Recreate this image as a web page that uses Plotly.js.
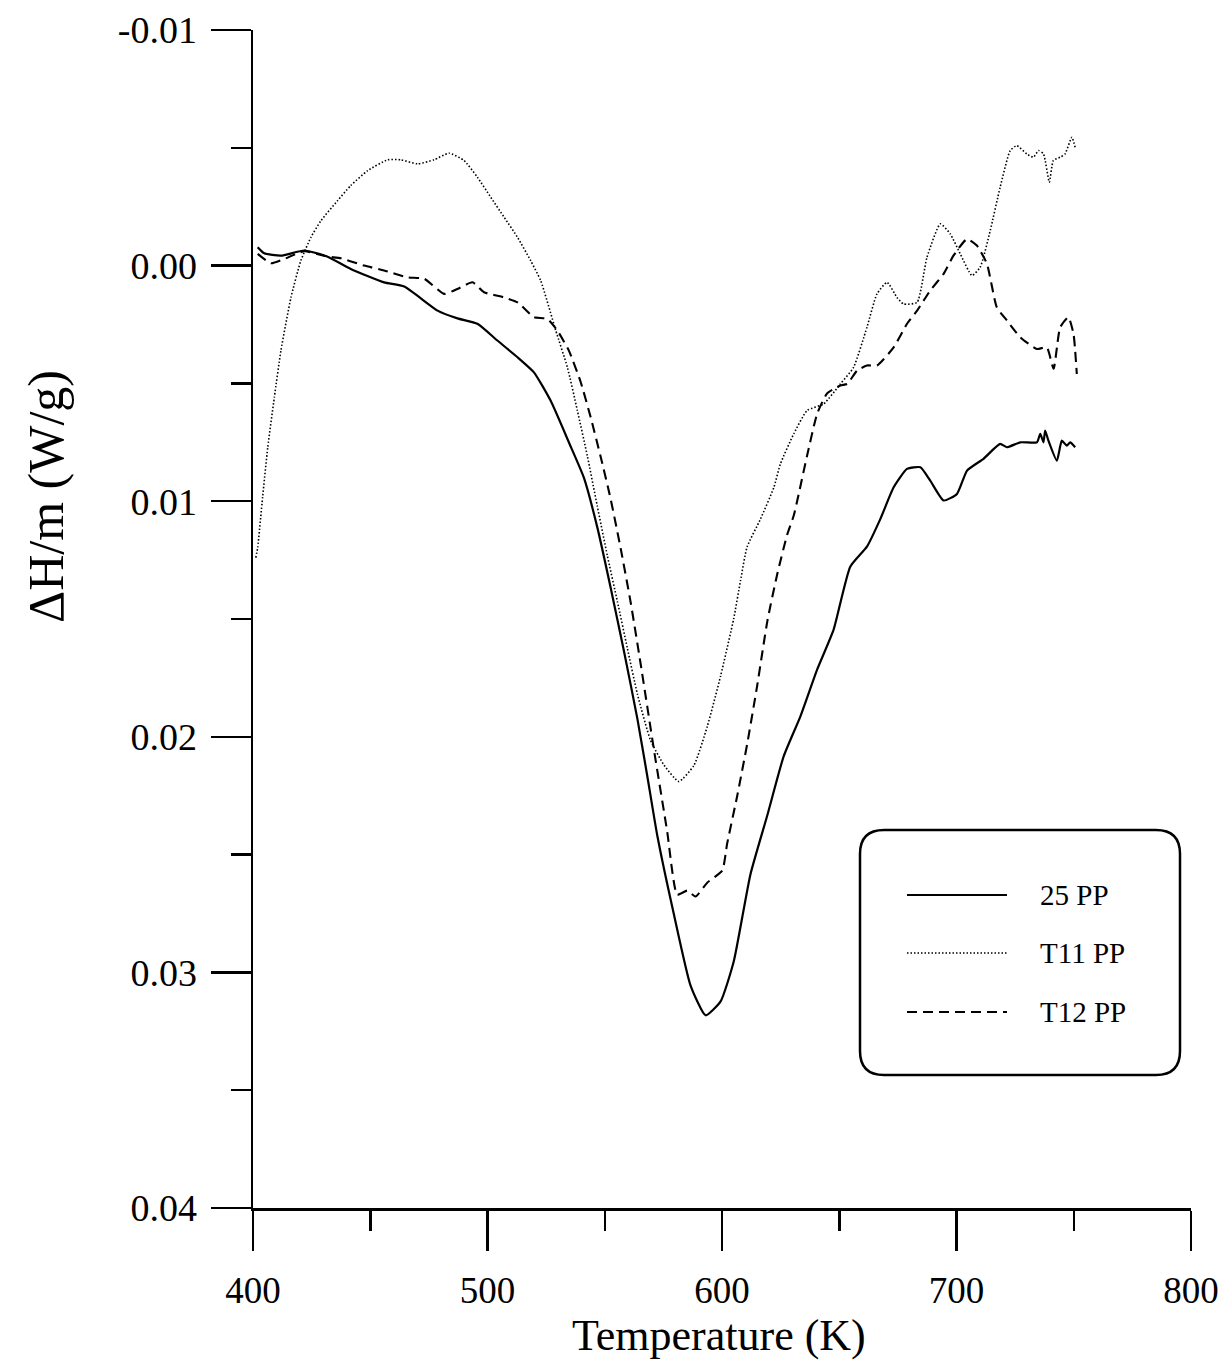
<!DOCTYPE html>
<html>
<head>
<meta charset="utf-8">
<script src="https://cdn.plot.ly/plotly-3.0.1.min.js"></script>
<style>
  html, body { margin: 0; padding: 0; background: #ffffff; }
  #chart { width: 1224px; height: 1363px; }
</style>
</head>
<body>
<div id="chart"></div>
<script>
// ---------- DATA (temperature in K, heat flow in W/g) ----------
const seriesNames = ['25 PP', 'T11 PP', 'T12 PP'];

const temp25 = [402.0, 404.8, 411.9, 421.9, 431.8, 441.7, 455.9, 464.5, 478.7, 487.2, 495.7, 504.2, 512.8, 519.8, 526.9, 534.7, 541.1, 546.8, 552.5, 558.2, 563.9, 568.1, 572.4, 579.5, 586.6, 593.0, 599.4, 605.0, 612.1, 619.3, 626.3, 633.4, 640.6, 647.6, 654.7, 661.8, 667.5, 673.2, 678.9, 684.6, 688.8, 694.5, 700.2, 704.5, 711.5, 718.6, 721.5, 727.2, 734.3, 735.7, 737.1, 737.8, 739.2, 742.8, 744.9, 747.0, 748.5, 750.6];
const dh25 = [-0.00078, -0.00052, -0.00042, -0.00064, -0.00038, 0.00014, 0.00071, 0.00089, 0.00191, 0.00224, 0.00247, 0.00318, 0.00389, 0.00453, 0.00573, 0.00750, 0.00900, 0.01110, 0.01366, 0.01637, 0.01923, 0.02164, 0.02419, 0.02754, 0.03056, 0.03182, 0.03123, 0.02954, 0.02585, 0.02334, 0.02083, 0.01914, 0.01714, 0.01545, 0.01278, 0.01193, 0.01076, 0.00941, 0.00863, 0.00856, 0.00913, 0.00997, 0.00969, 0.00870, 0.00820, 0.00757, 0.00771, 0.00750, 0.00750, 0.00714, 0.00750, 0.00700, 0.00743, 0.00828, 0.00743, 0.00764, 0.00750, 0.00771];

const tempT11 = [401.2, 402.0, 404.1, 406.3, 409.1, 411.9, 416.2, 420.4, 424.7, 429.0, 436.1, 441.7, 448.9, 457.4, 463.0, 470.2, 477.2, 483.6, 490.0, 495.7, 501.4, 507.1, 512.8, 518.4, 522.7, 529.1, 534.1, 538.3, 542.6, 546.8, 551.1, 555.4, 559.6, 563.9, 569.5, 575.2, 581.6, 588.0, 593.7, 599.4, 605.0, 607.9, 610.7, 616.4, 622.1, 624.9, 630.6, 636.3, 643.4, 650.5, 656.1, 661.8, 666.1, 670.4, 674.6, 677.4, 683.2, 687.4, 693.1, 697.3, 701.6, 706.6, 710.1, 714.4, 718.6, 722.9, 725.7, 730.0, 732.8, 735.0, 737.1, 739.6, 741.3, 744.2, 746.3, 749.2, 750.6];
const dhT11 = [0.01240, 0.01196, 0.00983, 0.00771, 0.00559, 0.00361, 0.00135, -0.00021, -0.00120, -0.00191, -0.00276, -0.00340, -0.00403, -0.00449, -0.00449, -0.00432, -0.00449, -0.00477, -0.00446, -0.00375, -0.00290, -0.00205, -0.00120, -0.00021, 0.00064, 0.00275, 0.00433, 0.00614, 0.00809, 0.01020, 0.01231, 0.01426, 0.01622, 0.01818, 0.02014, 0.02119, 0.02190, 0.02122, 0.01957, 0.01742, 0.01498, 0.01337, 0.01194, 0.01076, 0.00942, 0.00842, 0.00714, 0.00615, 0.00587, 0.00502, 0.00432, 0.00262, 0.00120, 0.00071, 0.00135, 0.00163, 0.00156, -0.00035, -0.00177, -0.00135, -0.00050, 0.00042, 0.00007, -0.00149, -0.00332, -0.00488, -0.00509, -0.00474, -0.00460, -0.00488, -0.00474, -0.00354, -0.00446, -0.00460, -0.00474, -0.00545, -0.00502];

const tempT12 = [402.0, 407.7, 413.3, 421.9, 431.8, 437.5, 447.4, 455.9, 465.9, 473.0, 481.5, 487.2, 493.6, 498.5, 507.1, 512.8, 519.8, 525.5, 529.8, 534.7, 539.7, 544.0, 548.2, 552.5, 556.8, 561.0, 565.3, 570.9, 576.6, 580.9, 585.2, 588.7, 593.7, 600.1, 602.2, 606.5, 610.7, 615.0, 619.3, 623.5, 627.8, 630.6, 636.3, 640.6, 644.8, 650.5, 653.4, 657.6, 661.8, 666.1, 673.2, 678.9, 683.2, 688.8, 694.5, 698.7, 704.5, 708.7, 713.0, 717.2, 721.5, 727.2, 734.3, 738.5, 741.4, 744.2, 747.7, 749.9, 751.3];
const dhT12 = [-0.00050, -0.00010, -0.00028, -0.00061, -0.00038, -0.00031, 0.00000, 0.00021, 0.00050, 0.00056, 0.00120, 0.00099, 0.00071, 0.00113, 0.00135, 0.00156, 0.00219, 0.00226, 0.00276, 0.00361, 0.00493, 0.00644, 0.00809, 0.00990, 0.01201, 0.01426, 0.01690, 0.02050, 0.02400, 0.02670, 0.02653, 0.02678, 0.02619, 0.02568, 0.02453, 0.02250, 0.02033, 0.01783, 0.01511, 0.01312, 0.01142, 0.01061, 0.00806, 0.00628, 0.00543, 0.00509, 0.00502, 0.00446, 0.00424, 0.00424, 0.00347, 0.00247, 0.00191, 0.00106, 0.00035, -0.00042, -0.00113, -0.00085, -0.00007, 0.00177, 0.00233, 0.00304, 0.00354, 0.00347, 0.00438, 0.00262, 0.00219, 0.00290, 0.00460];

const xTickVals = [400, 500, 600, 700, 800];
const xTickText = ['400', '500', '600', '700', '800'];
const yTickVals = [-0.01, 0.00, 0.01, 0.02, 0.03, 0.04];
const yTickText = ['-0.01', '0.00', '0.01', '0.02', '0.03', '0.04'];

const xTitle = 'Temperature (K)';
const yTitle = 'ΔH/m (W/g)';

// ---------- STYLE / LAYOUT ----------
const W = 1224, H = 1363;
const L = 253, R = 1191, T = 30, B = 1208;   // plot area in pixels
const FONT = '"Liberation Serif", "Times New Roman", Times, serif';
const dashes = ['solid', '1.5px,2px', '10px,6px'];
const widths = [2.2, 1.6, 2.1];

function px(x) { return (x - L) / (R - L); }
function py(y) { return (B - y) / (B - T); }

const xs = [temp25, tempT11, tempT12];
const ys = [dh25, dhT11, dhT12];

const traces = seriesNames.map((name, i) => ({
  type: 'scatter',
  mode: 'lines',
  name: name,
  x: xs[i],
  y: ys[i],
  line: { color: '#000000', width: widths[i], dash: dashes[i], shape: 'spline', smoothing: 0.5 },
  showlegend: false,
  hoverinfo: 'skip'
}));

// Rounded legend box
const bx0 = 860, bx1 = 1180, by0 = 830, by1 = 1075, rad = 24;
const X0 = px(bx0), X1 = px(bx1), YT = py(by0), YB = py(by1);
const rx = rad / (R - L), ry = rad / (B - T);
const boxPath = `M ${X0 + rx},${YT} L ${X1 - rx},${YT} Q ${X1},${YT} ${X1},${YT - ry} ` +
  `L ${X1},${YB + ry} Q ${X1},${YB} ${X1 - rx},${YB} L ${X0 + rx},${YB} ` +
  `Q ${X0},${YB} ${X0},${YB + ry} L ${X0},${YT - ry} Q ${X0},${YT} ${X0 + rx},${YT} Z`;

const legendRows = [895, 953, 1012];
const shapes = [{
  type: 'path', xref: 'paper', yref: 'paper', path: boxPath,
  line: { color: '#000000', width: 2.5 }, fillcolor: 'rgba(0,0,0,0)', layer: 'above'
}];
const annotations = [];
seriesNames.forEach((name, i) => {
  shapes.push({
    type: 'line', xref: 'paper', yref: 'paper',
    x0: px(907), x1: px(1007), y0: py(legendRows[i]), y1: py(legendRows[i]),
    line: { color: '#000000', width: widths[i], dash: dashes[i] }
  });
  annotations.push({
    xref: 'paper', yref: 'paper', x: px(1038), y: py(legendRows[i]),
    xanchor: 'left', yanchor: 'middle', showarrow: false,
    text: name, font: { family: FONT, size: 29, color: '#000000' }
  });
});
annotations.push({
  xref: 'paper', yref: 'paper', x: px(719), y: py(1335),
  xanchor: 'center', yanchor: 'middle', showarrow: false,
  text: xTitle, font: { family: FONT, size: 44, color: '#000000' }
});
annotations.push({
  xref: 'paper', yref: 'paper', x: px(46), y: py(497),
  xanchor: 'center', yanchor: 'middle', showarrow: false, textangle: -90,
  text: yTitle, font: { family: FONT, size: 50, color: '#000000' }
});

const axisCommon = {
  showline: true, linecolor: '#000000', linewidth: 2.5,
  ticks: 'outside', ticklen: 40, tickwidth: 2.5, tickcolor: '#000000',
  showgrid: false, zeroline: false, mirror: false,
  automargin: false, fixedrange: true
};

const layout = {
  width: W, height: H,
  margin: { l: L, r: W - R, t: T, b: H - B, pad: 0 },
  paper_bgcolor: '#ffffff', plot_bgcolor: '#ffffff',
  showlegend: false,
  xaxis: Object.assign({}, axisCommon, {
    range: [400, 800], tickmode: 'array', tickvals: xTickVals, ticktext: xTickText,
    tickfont: { family: FONT, size: 37, color: '#000000' },
    ticklabelstandoff: 8,
    minor: { tickmode: 'linear', tick0: 400, dtick: 50, ticks: 'outside', ticklen: 20, tickwidth: 2.5, tickcolor: '#000000', showgrid: false }
  }),
  yaxis: Object.assign({}, axisCommon, {
    range: [0.04, -0.01], tickmode: 'array', tickvals: yTickVals, ticktext: yTickText,
    tickfont: { family: FONT, size: 38, color: '#000000' },
    ticklabelstandoff: 6,
    minor: { tickmode: 'linear', tick0: 0, dtick: 0.005, ticks: 'outside', ticklen: 20, tickwidth: 2.5, tickcolor: '#000000', showgrid: false }
  }),
  shapes: shapes,
  annotations: annotations
};

Plotly.newPlot('chart', traces, layout, { displayModeBar: false, staticPlot: true });
</script>
</body>
</html>
